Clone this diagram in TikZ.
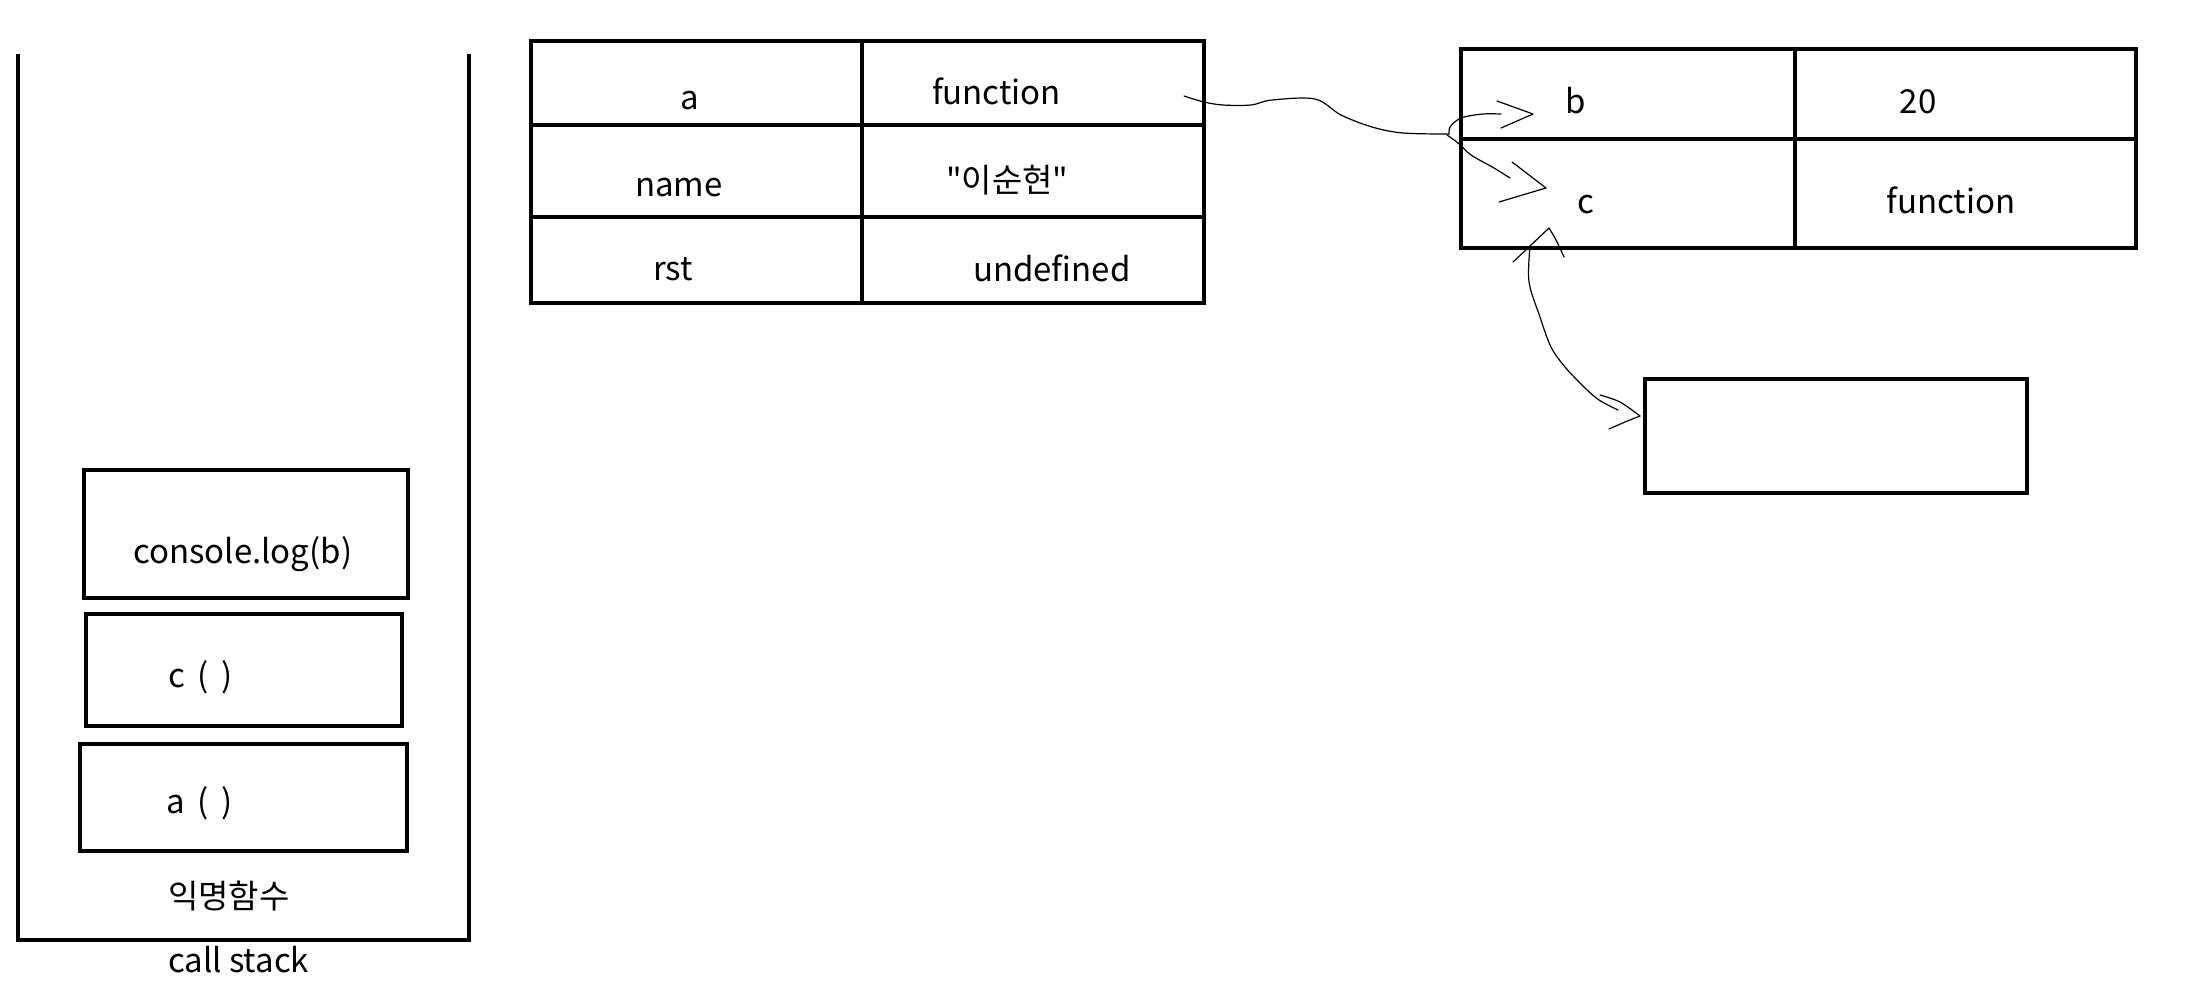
\documentclass[tikz,border=0pt]{standalone}
\usepackage{fontspec}
\setmainfont{Noto Sans CJK KR}[Ligatures=TeXOff]
\begin{document}
\begin{tikzpicture}[x=0.5pt,y=-0.5pt,
  frame/.style={draw, line width=2.4pt, inner sep=0pt, outer sep=0pt},
  txt/.style={inner sep=0pt, outer sep=0pt, font=\fontsize{16.5}{20}\selectfont},
  hand/.style={line width=0.6pt, line cap=round, line join=round}]
\useasboundingbox (0,0) rectangle (2204,997);

% call stack container
\coordinate (stTL) at (18,54);
\coordinate (stBL) at (18,940);
\coordinate (stBR) at (469,940);
\coordinate (stTR) at (469,54);
\draw[line width=2.4pt] (stTL) -- (stBL) -- (stBR) -- (stTR);

% stack frames
\node[frame, minimum width=162pt, minimum height=64pt] (fConsole) at (246,534) {};
\node[frame, minimum width=158pt, minimum height=56pt] (fC) at (244,670) {};
\node[frame, minimum width=163.5pt, minimum height=53.5pt] (fA) at (243.5,797.5) {};
\node[txt, anchor=base west] (tConsole) at (133,563) {console.log(b)};
\node[txt, anchor=base west] (tC) at (168,687) {c\, (\, )};
\node[txt, anchor=base west] (tA) at (166,813) {a\, (\, )};
\node[txt, anchor=base west] (tAnon) at (168,908) {익명함수};
\node[txt, anchor=base west] (tStack) at (168,972) {call stack};

% table 1
\node[frame, minimum width=165.5pt, minimum height=42pt] (r1k) at (696.5,83) {};
\node[frame, minimum width=171pt, minimum height=42pt] (r1v) at (1033,83) {};
\node[frame, minimum width=165.5pt, minimum height=46pt] (r2k) at (696.5,171) {};
\node[frame, minimum width=171pt, minimum height=46pt] (r2v) at (1033,171) {};
\node[frame, minimum width=165.5pt, minimum height=43pt] (r3k) at (696.5,260) {};
\node[frame, minimum width=171pt, minimum height=43pt] (r3v) at (1033,260) {};
\node[txt, anchor=base] (ka) at (690,109) {a};
\node[txt, anchor=base west] (va) at (932,104) {function};
\node[txt, anchor=base] (kname) at (679,196) {name};
\node[txt, anchor=base west] (vname) at (946,192) {"이순현"};
\node[txt, anchor=base] (krst) at (673,280) {rst};
\node[txt, anchor=base west] (vrst) at (973,281) {undefined};

% table 2
\node[frame, minimum width=167pt, minimum height=45pt] (s1k) at (1628,94) {};
\node[frame, minimum width=170.5pt, minimum height=45pt] (s1v) at (1965.5,94) {};
\node[frame, minimum width=167pt, minimum height=54.5pt] (s2k) at (1628,193.5) {};
\node[frame, minimum width=170.5pt, minimum height=54.5pt] (s2v) at (1965.5,193.5) {};
\node[txt, anchor=base] (kb) at (1576,113) {b};
\node[txt, anchor=base] (vb) at (1918,113) {20};
\node[txt, anchor=base] (kc) at (1586,213) {c};
\node[txt, anchor=base] (vc) at (1951,213) {function};

% empty box
\node[frame, minimum width=191pt, minimum height=57pt] (scope3) at (1836,436) {};

% connector: function -> b / c
\coordinate (fnStart) at (1184,96);
\coordinate (junc) at (1449,134);
\coordinate (bTip) at (1533,114);
\coordinate (cTip) at (1546,188);
\draw[hand] plot[smooth, tension=0.55] coordinates {(fnStart) (1204,102) (1223,105) (1251,105) (1272,100) (1315,99) (1341,115) (1372,127) (1403,133) (junc)};
\draw[hand] plot[smooth, tension=0.6] coordinates {(junc) (1450,127) (1456,121) (1464,117) (1483,114) (1501,114)};
\draw[hand] (1497,101) -- (bTip) -- (1501,128);
\draw[hand] plot[smooth, tension=0.5] coordinates {(1447,135) (1458,143) (1471,155) (1494,168) (1510,178)};
\draw[hand] (1512,162) -- (cTip) -- (1499,202);

% connector: c <-> empty box
\coordinate (c2Tip) at (1549,228);
\coordinate (boxTip) at (1640,416);
\draw[hand] plot[smooth, tension=0.5] coordinates {(1513,262) (1530,246) (c2Tip)};
\draw[hand] plot[smooth, tension=0.5] coordinates {(c2Tip) (1556,240) (1564,257)};
\draw[hand] plot[smooth, tension=0.55] coordinates {(1530,247) (1529,282) (1540,317) (1551,347) (1565,367) (1584,387) (1599,400) (1618,410)};
\draw[hand] plot[smooth, tension=0.5] coordinates {(1600,395) (1620,402) (boxTip)};
\draw[hand] plot[smooth, tension=0.5] coordinates {(1609,429) (1625,422) (boxTip)};
\end{tikzpicture}
\end{document}
